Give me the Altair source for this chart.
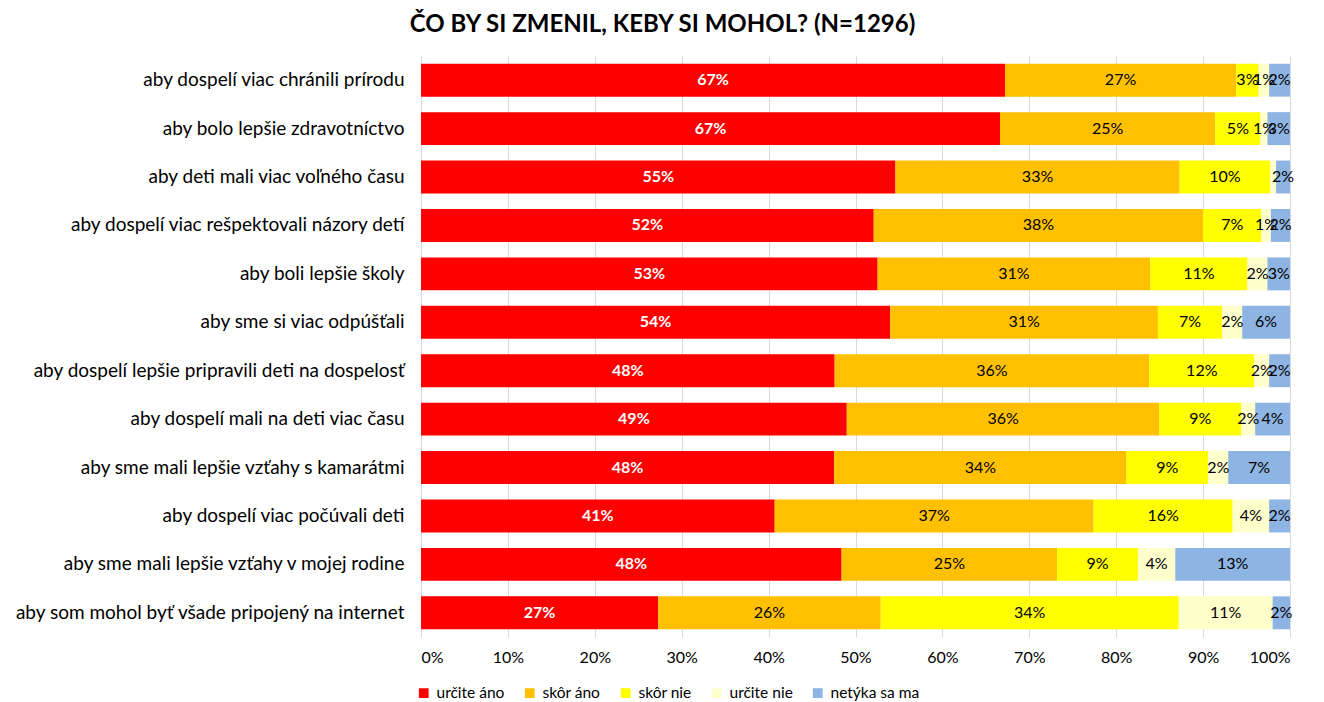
import altair as alt
import pandas as pd

questions = [
    "aby dospelí viac chránili prírodu",
    "aby bolo lepšie zdravotníctvo",
    "aby deti mali viac voľného času",
    "aby dospelí viac rešpektovali názory detí",
    "aby boli lepšie školy",
    "aby sme si viac odpúšťali",
    "aby dospelí lepšie pripravili deti na dospelosť",
    "aby dospelí mali na deti viac času",
    "aby sme mali lepšie vzťahy s kamarátmi",
    "aby dospelí viac počúvali deti",
    "aby sme mali lepšie vzťahy v mojej rodine",
    "aby som mohol byť všade pripojený na internet",
]
categories = ["určite áno", "skôr áno", "skôr nie", "určite nie", "netýka sa ma"]
colors = ["#FF0000", "#FFC000", "#FFFF00", "#FFFFCC", "#8DB4E2"]

urcite_ano = [67.2, 66.7, 54.6, 52.1, 52.6, 54.0, 47.6, 48.9, 47.5, 40.7, 48.4, 27.3]
skor_ano   = [26.6, 24.8, 32.7, 37.9, 31.4, 30.8, 36.2, 35.9, 33.6, 36.7, 24.8, 25.6]
skor_nie   = [2.6, 5.2, 10.4, 6.7, 11.2, 7.4, 12.1, 9.4, 9.4, 16.0, 9.3, 34.3]
urcite_nie = [1.2, 0.8, 0.7, 1.1, 2.3, 2.3, 1.7, 1.6, 2.3, 4.2, 4.3, 10.8]
netyka     = [2.4, 2.6, 1.6, 2.2, 2.6, 5.5, 2.4, 4.0, 7.1, 2.4, 13.2, 2.0]

label_urcite_ano = ["67%", "67%", "55%", "52%", "53%", "54%", "48%", "49%", "48%", "41%", "48%", "27%"]
label_skor_ano   = ["27%", "25%", "33%", "38%", "31%", "31%", "36%", "36%", "34%", "37%", "25%", "26%"]
label_skor_nie   = ["3%", "5%", "10%", "7%", "11%", "7%", "12%", "9%", "9%", "16%", "9%", "34%"]
label_urcite_nie = ["1%", "1%", "", "1%", "2%", "2%", "2%", "2%", "2%", "4%", "4%", "11%"]
label_netyka     = ["2%", "3%", "2%", "2%", "3%", "6%", "2%", "4%", "7%", "2%", "13%", "2%"]

series = [urcite_ano, skor_ano, skor_nie, urcite_nie, netyka]
labels = [label_urcite_ano, label_skor_ano, label_skor_nie, label_urcite_nie, label_netyka]

rows = []
for ci, cat in enumerate(categories):
    for qi, q in enumerate(questions):
        rows.append({"q": q, "cat": cat, "order": ci, "value": series[ci][qi],
                     "label": labels[ci][qi]})
df = pd.DataFrame(rows)

FONT = "Lato"

base = alt.Chart(df).transform_joinaggregate(
    total="sum(value)", groupby=["q"]
).transform_calculate(
    pct="datum.value / datum.total"
).transform_stack(
    stack="pct", as_=["x0", "x1"], groupby=["q"], sort=[alt.SortField("order")]
).transform_calculate(
    mid="(datum.x0 + datum.x1) / 2"
)

y_enc = alt.Y("q:N", sort=questions, title=None,
              scale=alt.Scale(paddingInner=0.32, paddingOuter=0.16),
              axis=alt.Axis(ticks=False, labelPadding=17, labelFontSize=19, labelFont=FONT,
                            labelColor="#000000", domain=True, domainColor="#D9D9D9",
                            labelLimit=500))

bars = base.mark_bar().encode(
    y=y_enc,
    x=alt.X("x0:Q", title=None,
            scale=alt.Scale(domain=[0, 1], nice=False),
            axis=alt.Axis(format=".0%", values=[i / 10 for i in range(11)], ticks=False,
                          domain=False, grid=True, gridColor="#D9D9D9", labelFontSize=16,
                          labelFont=FONT, labelColor="#000000", labelPadding=12)),
    x2="x1:Q",
    color=alt.Color("cat:N", sort=categories,
                    scale=alt.Scale(domain=categories, range=colors),
                    legend=alt.Legend(title=None, orient="none", direction="horizontal",
                                      legendX=-5, legendY=629, symbolType="square",
                                      symbolSize=95, symbolStrokeWidth=0, labelFontSize=15.5,
                                      labelFont=FONT, labelColor="#000000", columnPadding=17,
                                      labelOffset=5)),
)

text_white = base.transform_filter("datum.order == 0").mark_text(
    fontSize=16, font=FONT, fontWeight="bold", color="#FFFFFF"
).encode(
    y=alt.Y("q:N", sort=questions),
    x=alt.X("mid:Q"),
    text="label:N",
)

text_black = base.transform_filter("datum.order > 0").mark_text(
    fontSize=16, font=FONT, color="#000000"
).encode(
    y=alt.Y("q:N", sort=questions),
    x=alt.X("mid:Q"),
    text="label:N",
)

chart = alt.layer(bars, text_white, text_black).properties(
    width=869, height=581,
    padding={"left": 413, "top": 48, "right": 26, "bottom": 65},
    autosize="none",
    title=alt.TitleParams("ČO BY SI ZMENIL, KEBY SI MOHOL? (N=1296)", fontSize=24,
                          font=FONT, fontWeight="bold", anchor="middle", dx=-193,
                          color="#000000", offset=19),
).configure_view(stroke=None)

chart.save("out.html", embed_options={"renderer": "svg", "actions": False})
